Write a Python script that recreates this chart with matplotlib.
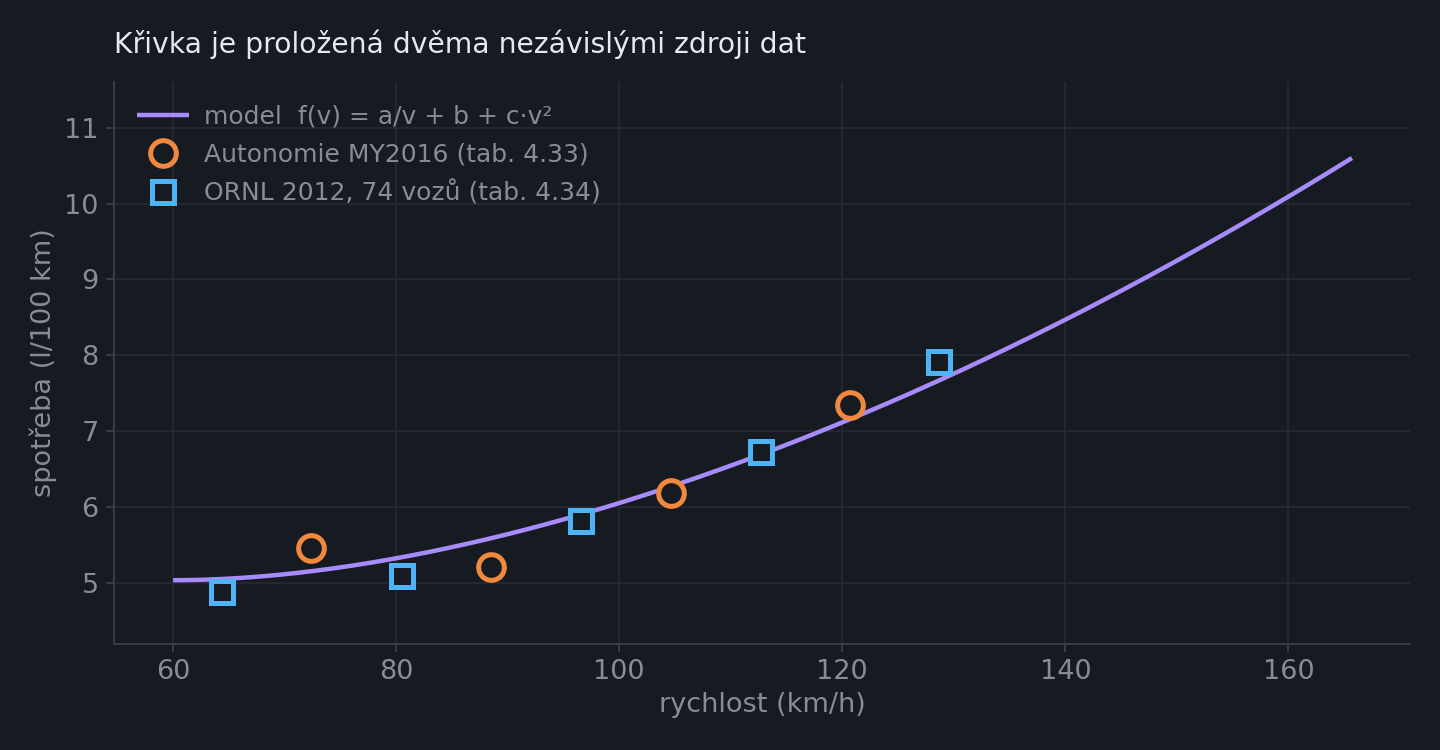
import numpy as np
import matplotlib
matplotlib.use("Agg")
import matplotlib.pyplot as plt

# --- data ---
title = "Křivka je proložená dvěma nezávislými zdroji dat"
xlabel = "rychlost (km/h)"
ylabel = "spotřeba (l/100 km)"

# model parameters f(v) = a/v + b + c*v^2
model_a = 124.7
model_b = 1.923
model_c = 2.886e-4
model_vmin = 60.0
model_vmax = 165.7

auto_speed = [72.4, 88.5, 104.6, 120.7]
auto_cons = [5.47, 5.22, 6.19, 7.35]

ornl_speed = [64.4, 80.5, 96.6, 112.7, 128.7]
ornl_cons = [4.88, 5.09, 5.82, 6.73, 7.91]

xticks = [60, 80, 100, 120, 140, 160]
yticks = [5, 6, 7, 8, 9, 10, 11]

label_model = "model  f(v) = a/v + b + c·v²"
label_auto = "Autonomie MY2016 (tab. 4.33)"
label_ornl = "ORNL 2012, 74 vozů (tab. 4.34)"

# --- style ---
BG = "#161a21"
GRID = "#242932"
SPINE = "#3a3f48"
TEXT = "#878d96"
TITLE = "#e6e9ee"
PURPLE = "#a78bfa"
ORANGE = "#f0883e"
BLUE = "#4db3f5"

fig = plt.figure(figsize=(14.4, 7.5), dpi=100, facecolor=BG)
ax = fig.add_axes([114/1440, 1-644/750, (1410-114)/1440, (644-82)/750])
ax.set_facecolor(BG)

v = np.linspace(model_vmin, model_vmax, 300)
f = model_a / v + model_b + model_c * v**2
ax.plot(v, f, color=PURPLE, lw=3.2, label=label_model, zorder=3, solid_capstyle="butt")
ax.plot(auto_speed, auto_cons, ls="none", marker="o", ms=18.5, mew=3.6,
        mec=ORANGE, mfc=BG, label=label_auto, zorder=4)
ax.plot(ornl_speed, ornl_cons, ls="none", marker="s", ms=16.5, mew=3.6,
        mec=BLUE, mfc=BG, label=label_ornl, zorder=4)

ax.set_xlim(54.7, 170.9)
ax.set_ylim(4.2, 11.6)
ax.set_xticks(xticks)
ax.set_yticks(yticks)
ax.grid(True, color=GRID, lw=1.3)
ax.set_axisbelow(True)
for s in ["top", "right"]:
    ax.spines[s].set_visible(False)
for s in ["left", "bottom"]:
    ax.spines[s].set_color(SPINE)
    ax.spines[s].set_linewidth(1.3)
ax.tick_params(colors=SPINE, labelcolor=TEXT, labelsize=19.5, length=6, width=1.3, pad=5)

ax.set_xlabel(xlabel, color=TEXT, fontsize=19.5, labelpad=5)
ax.set_ylabel(ylabel, color=TEXT, fontsize=19.5, labelpad=5)
fig.text(114/1440, 1-44/750, title, color=TITLE, fontsize=20.3, va="center", ha="left")

leg = ax.legend(loc="upper left", frameon=False, fontsize=18, labelcolor=TEXT,
                handlelength=2.1, handletextpad=0.6, borderaxespad=0.5,
                labelspacing=0.55, borderpad=0.4)

fig.savefig("out.png", dpi=100, facecolor=BG)
